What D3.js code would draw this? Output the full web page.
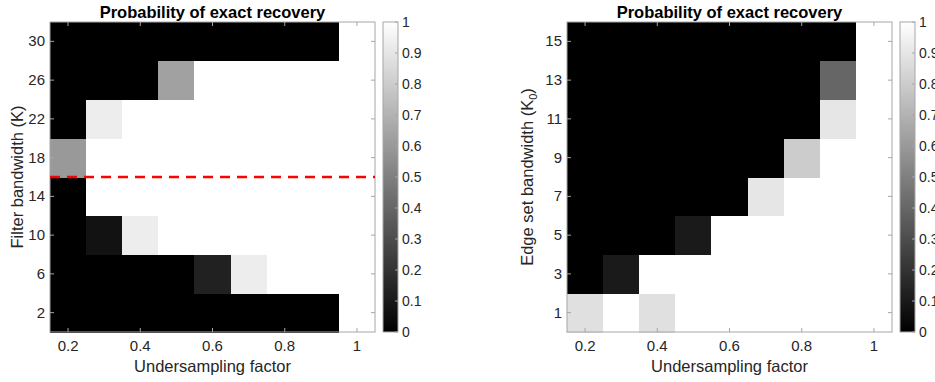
<!DOCTYPE html>
<html>
<head>
<meta charset="utf-8">
<script src="https://cdn.jsdelivr.net/npm/d3@7"></script>
<style>
  body { margin: 0; background: #fff; }
  svg { font-family: "Liberation Sans", Arial, sans-serif; }
</style>
</head>
<body>
<div id="chart"></div>
<script>
// undersampling factor columns (shared by both panels)
const factors = [0.2, 0.3, 0.4, 0.5, 0.6, 0.7, 0.8, 0.9, 1.0];
const xTicks = [0.2, 0.4, 0.6, 0.8, 1];

// left panel: filter bandwidth K, rows bottom -> top
const bandK = [2, 6, 10, 14, 18, 22, 26, 30];
const probK = [
  [0, 0, 0, 0, 0, 0, 0, 0, 1],
  [0, 0, 0, 0, 0.13, 0.93, 1, 1, 1],
  [0, 0.07, 0.93, 1, 1, 1, 1, 1, 1],
  [0, 1, 1, 1, 1, 1, 1, 1, 1],
  [0.6, 1, 1, 1, 1, 1, 1, 1, 1],
  [0, 0.93, 1, 1, 1, 1, 1, 1, 1],
  [0, 0, 0, 0.63, 1, 1, 1, 1, 1],
  [0, 0, 0, 0, 0, 0, 0, 0, 1]
];
const thresholdK = 16;

// right panel: edge set bandwidth K0
const bandK0 = [1, 3, 5, 7, 9, 11, 13, 15];
const probK0 = [
  [0.88, 1, 0.88, 1, 1, 1, 1, 1, 1],
  [0, 0.1, 1, 1, 1, 1, 1, 1, 1],
  [0, 0, 0, 0.1, 1, 1, 1, 1, 1],
  [0, 0, 0, 0, 0, 0.9, 1, 1, 1],
  [0, 0, 0, 0, 0, 0, 0.8, 1, 1],
  [0, 0, 0, 0, 0, 0, 0, 0.9, 1],
  [0, 0, 0, 0, 0, 0, 0, 0.4, 1],
  [0, 0, 0, 0, 0, 0, 0, 0, 1]
];
const cbTicks = [0, 0.1, 0.2, 0.3, 0.4, 0.5, 0.6, 0.7, 0.8, 0.9, 1];

const W = 935, H = 382;
const svg = d3.select('#chart').append('svg')
  .attr('width', W).attr('height', H);

const gray = d3.scaleLinear().domain([0, 1]).range(['#000000', '#ffffff']);

const defs = svg.append('defs');
const grad = defs.append('linearGradient').attr('id', 'cbgrad')
  .attr('x1', 0).attr('y1', 1).attr('x2', 0).attr('y2', 0);
grad.append('stop').attr('offset', '0%').attr('stop-color', '#000');
grad.append('stop').attr('offset', '100%').attr('stop-color', '#fff');

const axisColor = '#a6a6a6';
const textColor = '#262626';

function drawPanel(opt) {
  const { left, right, top, bottom, rows, values, yDomain, rowStep, yLabel, yLabelOff } = opt;
  const g = svg.append('g');

  const x = d3.scaleLinear().domain([0.15, 1.05]).range([left, right]);
  const y = d3.scaleLinear().domain(yDomain).range([bottom, top]);

  // cells
  const cells = g.append('g').attr('shape-rendering', 'crispEdges');
  rows.forEach((r, i) => {
    factors.forEach((f, j) => {
      cells.append('rect')
        .attr('x', x(f - 0.05))
        .attr('y', y(r + rowStep / 2))
        .attr('width', x(f + 0.05) - x(f - 0.05) + 0.6)
        .attr('height', y(r - rowStep / 2) - y(r + rowStep / 2) + 0.6)
        .attr('fill', gray(values[i][j]));
    });
  });

  // box
  g.append('rect')
    .attr('x', left).attr('y', top)
    .attr('width', right - left).attr('height', bottom - top)
    .attr('fill', 'none').attr('stroke', axisColor).attr('stroke-width', 1);

  const tl = 4;
  // x ticks bottom + top (inward)
  xTicks.forEach(t => {
    g.append('line').attr('x1', x(t)).attr('x2', x(t))
      .attr('y1', bottom).attr('y2', bottom - tl).attr('stroke', axisColor);
    g.append('line').attr('x1', x(t)).attr('x2', x(t))
      .attr('y1', top).attr('y2', top + tl).attr('stroke', axisColor);
    g.append('text').attr('x', x(t)).attr('y', bottom + 19)
      .attr('text-anchor', 'middle').attr('font-size', 15).attr('fill', textColor)
      .text(d3.format('')(t));
  });
  // y ticks left + right
  rows.forEach(t => {
    g.append('line').attr('x1', left).attr('x2', left + tl)
      .attr('y1', y(t)).attr('y2', y(t)).attr('stroke', axisColor);
    g.append('line').attr('x1', right).attr('x2', right - tl)
      .attr('y1', y(t)).attr('y2', y(t)).attr('stroke', axisColor);
    g.append('text').attr('x', left - 5).attr('y', y(t) + 5)
      .attr('text-anchor', 'end').attr('font-size', 15).attr('fill', textColor)
      .text(t);
  });

  // title
  g.append('text').attr('x', (left + right) / 2).attr('y', 18)
    .attr('text-anchor', 'middle').attr('font-size', 16.5).attr('font-weight', 'bold')
    .attr('fill', '#000').text('Probability of exact recovery');

  // x label
  g.append('text').attr('x', (left + right) / 2).attr('y', bottom + 40)
    .attr('text-anchor', 'middle').attr('font-size', 16.5).attr('fill', textColor)
    .text('Undersampling factor');

  // y label
  const yl = g.append('text')
    .attr('transform', `translate(${left - yLabelOff},${(top + bottom) / 2}) rotate(-90)`)
    .attr('text-anchor', 'middle').attr('font-size', 16.5).attr('fill', textColor);
  yLabel(yl);

  // colorbar
  const cbx = right + 8, cbw = 15;
  const cy = d3.scaleLinear().domain([0, 1]).range([bottom, top]);
  g.append('rect').attr('x', cbx).attr('y', top)
    .attr('width', cbw).attr('height', bottom - top)
    .attr('fill', 'url(#cbgrad)').attr('stroke', axisColor);
  cbTicks.forEach(t => {
    g.append('line').attr('x1', cbx + cbw).attr('x2', cbx + cbw - 3)
      .attr('y1', cy(t)).attr('y2', cy(t)).attr('stroke', axisColor);
    g.append('text').attr('x', cbx + cbw + 4).attr('y', cy(t) + 5)
      .attr('font-size', 14).attr('fill', textColor).text(t);
  });

  return { g, x, y };
}

const p1 = drawPanel({
  left: 50, right: 375, top: 22, bottom: 332,
  rows: bandK, values: probK, yDomain: [0, 32], rowStep: 4, yLabelOff: 27,
  yLabel: t => t.text('Filter bandwidth (K)')
});

p1.g.append('line')
  .attr('x1', p1.x(0.15)).attr('x2', p1.x(1.05))
  .attr('y1', p1.y(thresholdK)).attr('y2', p1.y(thresholdK))
  .attr('stroke', '#ff0000').attr('stroke-width', 2.5)
  .attr('stroke-dasharray', '10,7');

drawPanel({
  left: 567, right: 892, top: 22, bottom: 332,
  rows: bandK0, values: probK0, yDomain: [0, 16], rowStep: 2, yLabelOff: 34,
  yLabel: t => {
    t.append('tspan').text('Edge set bandwidth (K');
    t.append('tspan').attr('font-size', 11).attr('dy', 4).text('0');
    t.append('tspan').attr('dy', -4).text(')');
  }
});
</script>
</body>
</html>
